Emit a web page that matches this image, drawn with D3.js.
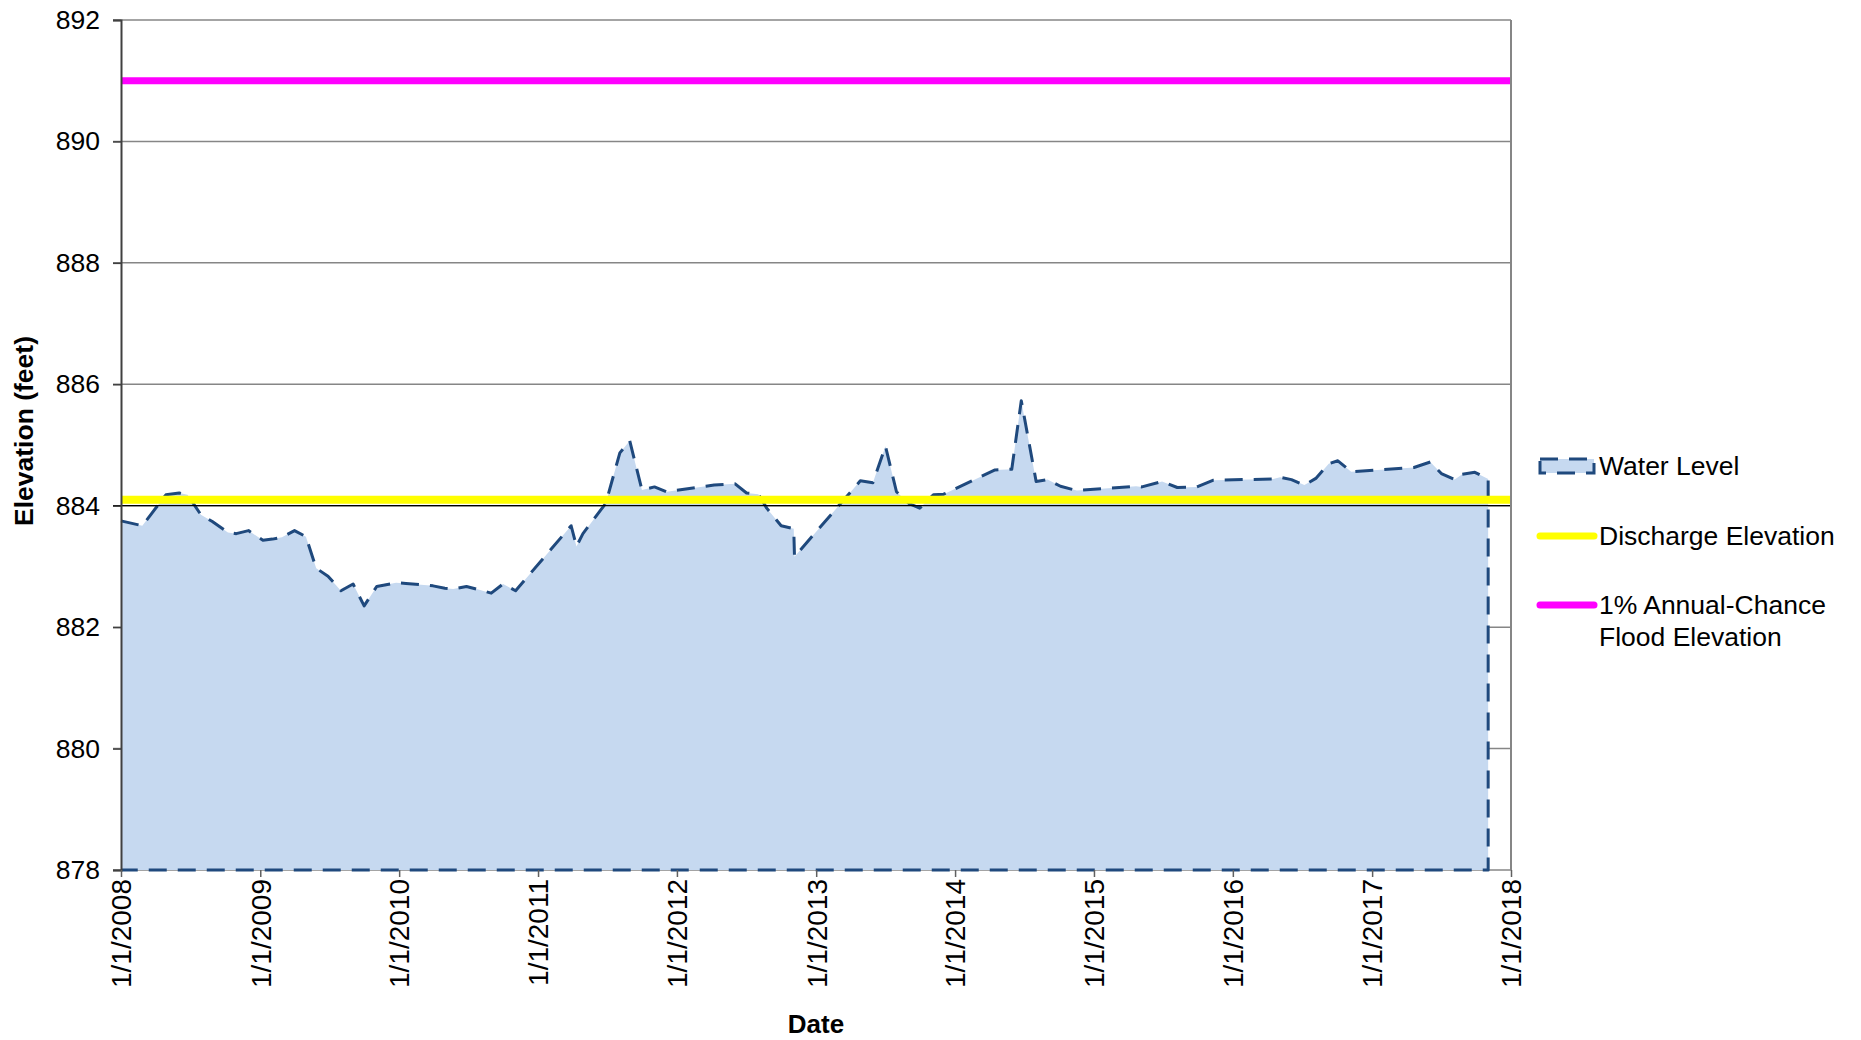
<!DOCTYPE html>
<html>
<head>
<meta charset="utf-8">
<script src="https://cdn.jsdelivr.net/npm/d3@7/dist/d3.min.js"></script>
<style>
  html, body { margin: 0; padding: 0; background: #fff; }
  svg { display: block; font-family: "Liberation Sans", Arial, sans-serif; }
</style>
</head>
<body>
<script>
// Water level readings (date, elevation in feet)
const sampleDates = [
  "2008-01-01", "2008-02-26", "2008-04-28", "2008-06-02", "2008-06-24", "2008-07-29",
  "2008-08-28", "2008-10-08", "2008-10-30", "2008-12-01", "2009-01-08", "2009-02-02",
  "2009-02-27", "2009-04-01", "2009-05-01", "2009-05-28", "2009-06-28", "2009-08-01",
  "2009-09-02", "2009-10-01", "2009-11-03", "2009-12-24", "2010-01-19", "2010-03-31",
  "2010-05-01", "2010-05-23", "2010-06-27", "2010-07-28", "2010-08-31", "2010-10-01",
  "2010-11-03", "2011-03-29", "2011-04-12", "2011-04-29", "2011-06-28", "2011-08-04",
  "2011-08-30", "2011-10-01", "2011-11-03", "2011-12-05", "2012-03-17", "2012-04-08",
  "2012-06-02", "2012-07-02", "2012-08-02", "2012-08-24", "2012-10-01", "2012-11-03",
  "2012-11-05", "2013-04-27", "2013-05-30", "2013-07-02", "2013-07-31", "2013-09-01",
  "2013-09-30", "2013-11-05", "2013-12-02", "2014-04-16", "2014-05-30", "2014-06-24",
  "2014-08-02", "2014-09-01", "2014-10-05", "2014-11-17", "2015-04-22", "2015-05-07",
  "2015-06-29", "2015-08-08", "2015-09-28", "2015-11-11", "2016-04-16", "2016-05-04",
  "2016-06-03", "2016-07-07", "2016-08-06", "2016-09-09", "2016-10-03", "2016-11-07",
  "2017-04-21", "2017-06-03", "2017-07-02", "2017-08-06", "2017-08-26", "2017-09-28",
  "2017-11-02"
];
const waterLevels = [
  883.75, 883.67, 884.18, 884.21, 884.18, 883.85,
  883.74, 883.56, 883.54, 883.59, 883.43, 883.45,
  883.48, 883.59, 883.49, 882.97, 882.84, 882.60,
  882.71, 882.35, 882.67, 882.73, 882.72, 882.68,
  882.64, 882.63, 882.67, 882.62, 882.56, 882.71,
  882.60, 883.67, 883.33, 883.54, 884.04, 884.87,
  885.07, 884.26, 884.31, 884.23, 884.32, 884.34,
  884.36, 884.21, 884.19, 883.96, 883.67, 883.62,
  883.16, 884.41, 884.38, 884.98, 884.23, 884.04,
  883.96, 884.18, 884.19, 884.59, 884.60, 885.73,
  884.40, 884.43, 884.32, 884.25, 884.32, 884.31,
  884.40, 884.30, 884.31, 884.42, 884.44, 884.47,
  884.43, 884.34, 884.45, 884.69, 884.74, 884.56,
  884.63, 884.72, 884.53, 884.43, 884.52, 884.55,
  884.44
];
// Reference elevations
const dischargeElevation = 884.1;
const floodElevation = 891.0;
// Axis ticks
const yTicks = [878, 880, 882, 884, 886, 888, 890, 892];
const xTickYears = [2008, 2009, 2010, 2011, 2012, 2013, 2014, 2015, 2016, 2017, 2018];
const legendLabels = ["Water Level", "Discharge Elevation", ["1% Annual-Chance", "Flood Elevation"]];

const W = 1861, H = 1040;
const plot = { left: 121, top: 20, right: 1511, bottom: 870 };
const DASH = "18,11";

const parse = d3.timeParse("%Y-%m-%d");
const data = sampleDates.map((d, i) => ({ date: parse(d), level: waterLevels[i] }));

const x = d3.scaleTime()
  .domain([new Date(2008, 0, 1), new Date(2018, 0, 1)])
  .range([plot.left, plot.right]);
const y = d3.scaleLinear()
  .domain([878, 892])
  .range([plot.bottom, plot.top]);

const svg = d3.select("body").append("svg")
  .attr("width", W)
  .attr("height", H);

// Gridlines, under the area
svg.append("g")
  .selectAll("line")
  .data(yTicks)
  .join("line")
  .attr("x1", plot.left - 8)
  .attr("x2", plot.right)
  .attr("y1", d => y(d))
  .attr("y2", d => y(d))
  .attr("stroke", "#868686")
  .attr("stroke-width", 1.5);

// Water level area: fill, then dashed outline (top, right end, bottom)
const area = d3.area()
  .x(d => x(d.date))
  .y0(y(878))
  .y1(d => y(d.level));

svg.append("path")
  .datum(data)
  .attr("d", area)
  .attr("fill", "#C6D9F0");

const last = data[data.length - 1];
const outline = d3.line()
  .x(d => x(d.date))
  .y(d => y(d.level));
const outlinePts = data.concat([
  { date: last.date, level: 878 },
  { date: data[0].date, level: 878 }
]);

svg.append("path")
  .datum(outlinePts)
  .attr("d", outline)
  .attr("fill", "none")
  .attr("stroke", "#1F497D")
  .attr("stroke-width", 3)
  .attr("stroke-dasharray", DASH)
  .attr("stroke-linejoin", "round");

// thin dark line at 884 drawn over the area
svg.append("line")
  .attr("x1", plot.left - 8)
  .attr("x2", plot.right)
  .attr("y1", y(884))
  .attr("y2", y(884))
  .attr("stroke", "#000")
  .attr("stroke-width", 1.2);

// Discharge and flood elevations
svg.append("line")
  .attr("x1", plot.left).attr("x2", plot.right)
  .attr("y1", y(dischargeElevation)).attr("y2", y(dischargeElevation))
  .attr("stroke", "#FFFF00").attr("stroke-width", 8);

svg.append("line")
  .attr("x1", plot.left).attr("x2", plot.right)
  .attr("y1", y(floodElevation)).attr("y2", y(floodElevation))
  .attr("stroke", "#FF00FF").attr("stroke-width", 7);

// Plot frame: right border
svg.append("line")
  .attr("x1", plot.right).attr("x2", plot.right)
  .attr("y1", plot.top).attr("y2", plot.bottom)
  .attr("stroke", "#868686").attr("stroke-width", 2);

// Y axis
const yAxis = svg.append("g")
  .attr("transform", `translate(${plot.left},0)`)
  .call(d3.axisLeft(y).tickValues(yTicks).tickSize(8).tickPadding(13).tickFormat(d3.format("d")));
yAxis.select(".domain").attr("stroke", "#404040").attr("stroke-width", 2);
yAxis.selectAll(".tick line").attr("stroke", "#404040").attr("stroke-width", 1.5);
yAxis.selectAll("text")
  .attr("font-size", 26.5)
  .attr("fill", "#000");

// X axis
const xAxis = svg.append("g")
  .attr("transform", `translate(0,${plot.bottom})`)
  .call(d3.axisBottom(x)
    .tickValues(xTickYears.map(yr => new Date(yr, 0, 1)))
    .tickSize(7)
    .tickFormat(d => `${d.getMonth() + 1}/${d.getDate()}/${d.getFullYear()}`));
xAxis.select(".domain").remove();
xAxis.selectAll(".tick line").attr("stroke", "#606060").attr("stroke-width", 1.5);
xAxis.selectAll("text")
  .attr("font-size", 28)
  .attr("fill", "#000")
  .attr("text-anchor", "end")
  .attr("dy", "0.35em")
  .attr("transform", "rotate(-90)")
  .attr("x", -9)
  .attr("y", 0);

// Axis titles
svg.append("text")
  .attr("transform", `translate(33,${(plot.top + plot.bottom) / 2 - 14}) rotate(-90)`)
  .attr("text-anchor", "middle")
  .attr("font-size", 26.5)
  .attr("font-weight", "bold")
  .text("Elevation (feet)");

svg.append("text")
  .attr("x", (plot.left + plot.right) / 2)
  .attr("y", 1033)
  .attr("text-anchor", "middle")
  .attr("font-size", 26)
  .attr("font-weight", "bold")
  .text("Date");

// Legend
const legend = svg.append("g").attr("transform", "translate(1538,0)");
const rowY = [466, 536, 605];

legend.append("rect")
  .attr("x", 2).attr("y", rowY[0] - 7)
  .attr("width", 54).attr("height", 14)
  .attr("fill", "#C6D9F0")
  .attr("stroke", "#1F497D")
  .attr("stroke-width", 3)
  .attr("stroke-dasharray", DASH);

legend.append("line")
  .attr("x1", 2).attr("x2", 56)
  .attr("y1", rowY[1]).attr("y2", rowY[1])
  .attr("stroke", "#FFFF00").attr("stroke-width", 7).attr("stroke-linecap", "round");

legend.append("line")
  .attr("x1", 2).attr("x2", 56)
  .attr("y1", rowY[2]).attr("y2", rowY[2])
  .attr("stroke", "#FF00FF").attr("stroke-width", 7).attr("stroke-linecap", "round");

legendLabels.forEach((label, i) => {
  const t = legend.append("text")
    .attr("x", 61)
    .attr("y", rowY[i])
    .attr("font-size", 26.5)
    .attr("fill", "#000");
  if (Array.isArray(label)) {
    label.forEach((part, j) => {
      t.append("tspan").attr("x", 61).attr("dy", j === 0 ? "0.35em" : "1.18em").text(part);
    });
  } else {
    t.attr("dy", "0.35em").text(label);
  }
});
</script>
</body>
</html>
